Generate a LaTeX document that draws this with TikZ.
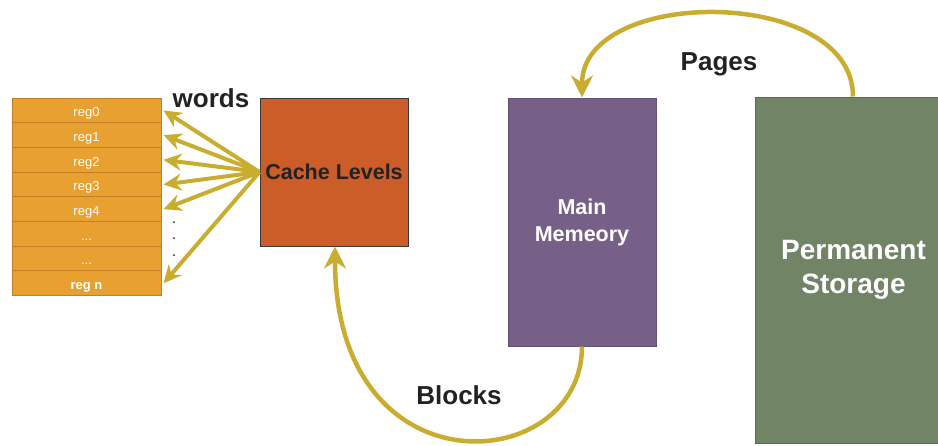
\documentclass[tikz,border=0pt]{standalone}
\usepackage{fontspec}
\setmainfont{Liberation Sans}
\usetikzlibrary{arrows.meta}

\definecolor{regfill}{HTML}{E8A030}
\definecolor{regline}{HTML}{C47E26}
\definecolor{cachefill}{HTML}{CC5C28}
\definecolor{memfill}{HTML}{776088}
\definecolor{memline}{HTML}{65507A}
\definecolor{storefill}{HTML}{718466}
\definecolor{storeline}{HTML}{5A6A50}
\definecolor{gold}{HTML}{C9AD30}
\definecolor{ink}{HTML}{222222}

\tikzset{
  regbox/.style={draw=regline, line width=1pt, fill=regfill, minimum width=149pt,
    minimum height=24.7pt, inner sep=0pt, text=white, text height=12.5pt, text depth=0pt,
    font=\fontsize{13}{15}\selectfont},
  block/.style={inner sep=0pt, line width=1pt, align=center},
  flow/.style={draw=gold, line width=4.5pt, line cap=butt,
    -{Stealth[length=22pt,width=22pt,inset=7pt]}},
  wordarrow/.style={draw=gold, line width=4pt,
    -{Stealth[length=18pt,width=17pt,inset=6pt]}},
  label/.style={text=ink, anchor=base, font=\bfseries\fontsize{26}{26}\selectfont},
}

\begin{document}
\begin{tikzpicture}[x=1pt,y=-1pt]
\useasboundingbox (0,0) rectangle (938,445);
\clip (0,0) rectangle (938,445);

% register file
\node[regbox] (r0) at (86.5,110.4) {reg0};
\node[regbox] (r1) at (86.5,135.1) {reg1};
\node[regbox] (r2) at (86.5,159.8) {reg2};
\node[regbox] (r3) at (86.5,184.5) {reg3};
\node[regbox] (r4) at (86.5,209.2) {reg4};
\node[regbox] (r5) at (86.5,233.9) {...};
\node[regbox] (r6) at (86.5,258.6) {...};
\node[regbox, font=\bfseries\fontsize{13}{15}\selectfont] (r7) at (86.5,283.3) {reg n};

% memory levels
\node[block, draw=ink!90, fill=cachefill, minimum width=148pt, minimum height=148pt,
  text=ink, font=\bfseries\fontsize{21.5}{26}\selectfont] (cache) at (334,172) {Cache Levels};
\node[block, draw=memline, fill=memfill, minimum width=148pt, minimum height=248pt,
  text=white, font=\bfseries\fontsize{21.5}{27}\selectfont] (main) at (582,222) {Main\\Memeory};
\node[block, draw=storeline, fill=storefill, minimum width=197pt, minimum height=346pt,
  text=white, font=\bfseries\fontsize{28}{34}\selectfont] (perm) at (853.5,270) {Permanent\\Storage};

% words between cache and registers
\coordinate (hub) at (cache.west);
\foreach \r in {r0,r1,r2,r3,r4,r7}
  \draw[wordarrow] (hub) -- ([xshift=2pt]\r.east);
\foreach \yy in {222,238,255}
  \fill[ink] (174,\yy) circle (1pt);
\node[label] (words) at (211,107) {words};

% pages from storage to main memory
\coordinate (pstart) at (perm.north -| 853,0);
\coordinate (pend) at (main.north -| 582,0);
\draw[flow] (pstart) .. controls (853,-14) and (582,-14) .. (pend);
\node[label] (pages) at (719,70) {Pages};

% blocks from main memory to cache
\coordinate (bstart) at (main.south -| 582,0);
\coordinate (bend) at (cache.south -| 335,0);
\draw[flow] (bstart) .. controls (582,476) and (335,496) .. (bend);
\node[label] (blocks) at (459,404) {Blocks};
\end{tikzpicture}
\end{document}
